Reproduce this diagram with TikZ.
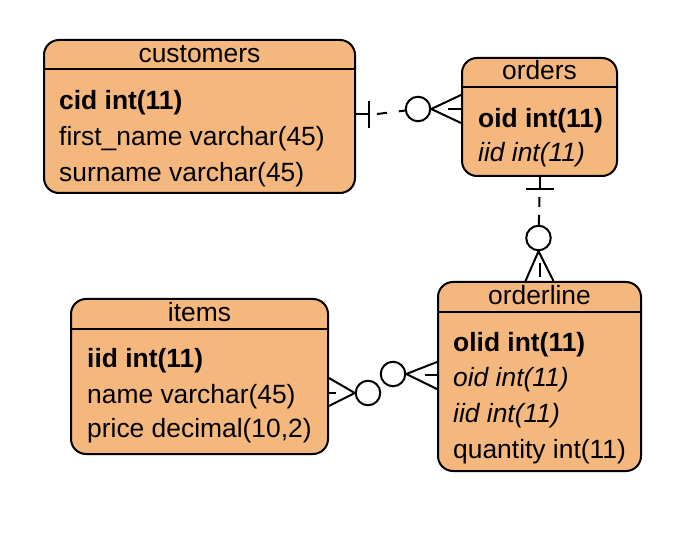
\documentclass[tikz,border=0pt]{standalone}
\usepackage{fontspec}
\setmainfont{Liberation Sans}
\usetikzlibrary{calc}
\definecolor{ent}{RGB}{244,183,125}
\begin{document}
\begin{tikzpicture}[x=1pt,y=-1pt,
 entity/.style={draw=black,line width=2pt,fill=ent,rounded corners=15pt,anchor=north west,inner sep=0pt},
 hdr/.style={line width=2pt},
 ttl/.style={anchor=base,inner sep=0pt,font=\fontsize{26.4}{30}\selectfont},
 fld/.style={anchor=base west,inner sep=0pt,font=\fontsize{26.4}{30}\selectfont},
 conn/.style={line width=2pt},
 dsh/.style={line width=2pt,dash pattern=on 10pt off 12pt},
 erc/.style={circle,draw,line width=2pt,minimum size=24.5pt,inner sep=0pt}]
\useasboundingbox (0,0) rectangle (683,537);

% customers
\node[entity,minimum width=311pt,minimum height=153pt] (cust) at (43,39) {};
\draw[hdr] ($(cust.north west)+(0,30)$) -- ($(cust.north east)+(0,30)$);
\node[ttl] (custT) at ($(cust.north)+(0,24)$) {customers};
\node[fld] (cust1) at ($(cust.north west)+(16,71)$) {\bfseries cid int(11)};
\node[fld] (cust2) at ($(cust.north west)+(16,107)$) {first\_name varchar(45)};
\node[fld] (cust3) at ($(cust.north west)+(16,143)$) {surname varchar(45)};

% orders
\node[entity,minimum width=155pt,minimum height=118pt] (ord) at (461,57) {};
\draw[hdr] ($(ord.north west)+(0,30)$) -- ($(ord.north east)+(0,30)$);
\node[ttl] (ordT) at ($(ord.north)+(0,23)$) {orders};
\node[fld] (ord1) at ($(ord.north west)+(17,71)$) {\bfseries oid int(11)};
\node[fld] (ord2) at ($(ord.north west)+(17,105)$) {\itshape iid int(11)};

% items
\node[entity,minimum width=257pt,minimum height=155pt] (items) at (70,298) {};
\draw[hdr] ($(items.north west)+(0,31)$) -- ($(items.north east)+(0,31)$);
\node[ttl] (itemsT) at ($(items.north)+(0,24)$) {items};
\node[fld] (items1) at ($(items.north west)+(17,70)$) {\bfseries iid int(11)};
\node[fld] (items2) at ($(items.north west)+(17,105)$) {name varchar(45)};
\node[fld] (items3) at ($(items.north west)+(17,139)$) {price decimal(10,2)};

% orderline
\node[entity,minimum width=203pt,minimum height=189pt] (ol) at (437,281) {};
\draw[hdr] ($(ol.north west)+(0,31)$) -- ($(ol.north east)+(0,31)$);
\node[ttl] (olT) at ($(ol.north)+(0,24)$) {orderline};
\node[fld] (ol1) at ($(ol.north west)+(16,71)$) {\bfseries olid int(11)};
\node[fld] (ol2) at ($(ol.north west)+(16,106)$) {\itshape oid int(11)};
\node[fld] (ol3) at ($(ol.north west)+(16,141)$) {\itshape iid int(11)};
\node[fld] (ol4) at ($(ol.north west)+(16,177)$) {quantity int(11)};

% connector customers - orders
\node[erc] (k1) at (418,109) {};
\coordinate (a1) at ($(cust.north east)+(0,75)$);
\draw[conn] (a1) -- ++(13,0) coordinate (bar1);
\draw[conn] ($(bar1)+(0,-13)$) -- ($(bar1)+(0,14)$);
\draw[dsh] ($(bar1)+(8,0)$) -- (k1);
\draw[conn] ($(ord.north west)+(0,38)$) -- (k1.east) -- ($(ord.north west)+(0,66)$);
\draw[conn] ($(ord.north west)+(-13,52)$) -- ($(ord.north west)+(0,52)$);

% connector orders - orderline
\node[erc] (k2) at (538.5,238) {};
\draw[conn] (ord.south) -- ++(0,12) coordinate (bar2);
\draw[conn] ($(bar2)+(-14,0)$) -- ($(bar2)+(14,0)$);
\draw[line width=2pt,dash pattern=on 10pt off 8pt] ($(bar2)+(0,8)$) -- (k2);
\draw[conn] ($(ol.north)+(-14,0)$) -- (k2.south) -- ($(ol.north)+(14,0)$);
\draw[conn] ($(ol.north)+(0,-18)$) -- ($(ol.north)+(0,-4)$);

% connector items - orderline
\node[erc] (k3) at (368,393) {};
\node[erc] (k4) at (393,374) {};
\draw[conn] ($(items.north east)+(0,80)$) -- (k3.west) -- ($(items.north east)+(0,108)$);
\draw[conn] ($(items.north east)+(0,95)$) -- ++(7,0);
\draw[conn] ($(ol.north west)+(0,81)$) -- (k4.east) -- ($(ol.north west)+(0,108)$);
\draw[conn] ($(ol.north west)+(-12,94)$) -- ++(12,0);
\end{tikzpicture}
\end{document}
